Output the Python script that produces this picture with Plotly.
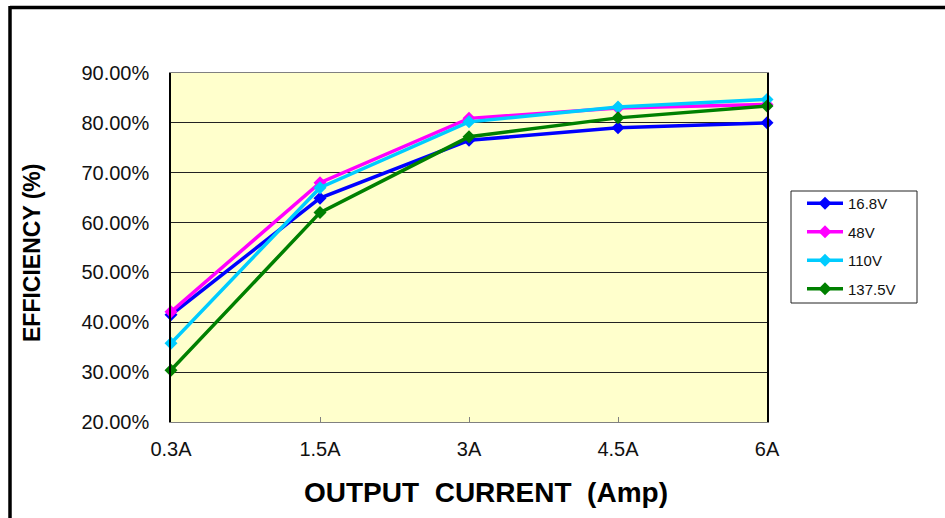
import plotly.graph_objects as go

currents = ["0.3A", "1.5A", "3A", "4.5A", "6A"]
series_names = ["16.8V", "48V", "110V", "137.5V"]
eff_16_8 = [41.5, 64.9, 76.5, 79.0, 80.0]
eff_48 = [42.1, 68.0, 80.9, 83.0, 83.7]
eff_110 = [35.8, 67.0, 80.2, 83.2, 84.7]
eff_137_5 = [30.4, 62.0, 77.2, 81.0, 83.4]
y_ticks = [20, 30, 40, 50, 60, 70, 80, 90]
x_title = "OUTPUT  CURRENT  (Amp)"
y_title = "EFFICIENCY (%)"

colors = ["#0000FF", "#FF00FF", "#00CCFF", "#008000"]
all_series = [eff_16_8, eff_48, eff_110, eff_137_5]

FONT = "Arial, Liberation Sans, sans-serif"
W, H = 945, 518
L, R, T, B = 171, 178, 73, 96
PW, PH = W - L - R, H - T - B

def px_x(p):
    return (p - L) / PW

def px_y(p):
    return (H - B - p) / PH

fig = go.Figure()
xs = list(range(len(currents)))
for i, (name, vals) in enumerate(zip(series_names, all_series)):
    fig.add_trace(go.Scatter(
        x=xs, y=vals, name=name, mode="lines+markers",
        line=dict(color=colors[i], width=3.5),
        marker=dict(symbol="diamond", size=10, color=colors[i]),
        legendgroup=name,
        cliponaxis=False,
    ))

# outer frame (top and left edges visible)
fig.add_shape(type="line", xref="paper", yref="paper",
              x0=px_x(10), x1=px_x(980), y0=px_y(7.5), y1=px_y(7.5),
              line=dict(color="black", width=3.5))
fig.add_shape(type="line", xref="paper", yref="paper",
              x0=px_x(10), x1=px_x(10), y0=px_y(6), y1=px_y(560),
              line=dict(color="black", width=3.5))
# legend box
fig.add_shape(type="rect", xref="paper", yref="paper",
              x0=px_x(791), x1=px_x(917), y0=px_y(191), y1=px_y(303),
              line=dict(color="#222222", width=1), fillcolor="white", layer="below")

fig.add_annotation(xref="paper", yref="paper", x=px_x(486), y=px_y(492),
                   xanchor="center", yanchor="middle", showarrow=False,
                   text=x_title,
                   font=dict(family=FONT, size=28, color="black", weight="bold"))
fig.add_annotation(xref="paper", yref="paper", x=px_x(32), y=px_y(253),
                   xanchor="center", yanchor="middle", showarrow=False,
                   text=y_title, textangle=-90,
                   font=dict(family=FONT, size=23, color="black", weight="bold"))

fig.update_layout(
    width=W, height=H,
    margin=dict(l=L, r=R, t=T, b=B, pad=0),
    paper_bgcolor="white",
    plot_bgcolor="#FFFFCC",
    font=dict(family=FONT, size=20, color="#111111"),
    showlegend=True,
    legend=dict(
        x=px_x(802), y=px_y(187), xanchor="left", yanchor="top",
        borderwidth=0, bgcolor="rgba(0,0,0,0)",
        font=dict(family=FONT, size=15, color="#111111"),
        tracegroupgap=6, itemwidth=36,
    ),
    xaxis=dict(
        tickmode="array", tickvals=xs, ticktext=currents,
        range=[0, len(currents) - 1],
        showgrid=False, zeroline=False,
        showline=True, linecolor="#808080", linewidth=1, mirror=True,
        ticks="inside", ticklen=5, tickcolor="#808080",
        ticklabelstandoff=9,
    ),
    yaxis=dict(
        range=[20, 90], tickmode="array", tickvals=y_ticks,
        ticktext=[f"{v:.2f}%" for v in y_ticks],
        showgrid=True, gridcolor="#222222", gridwidth=1,
        zeroline=False,
        showline=True, linecolor="black", linewidth=1.5, mirror=True,
        ticks="", ticklabelstandoff=16,
    ),
)

fig.write_html("out.html", config={"displayModeBar": False},
               post_script="document.body.style.margin='0';")
